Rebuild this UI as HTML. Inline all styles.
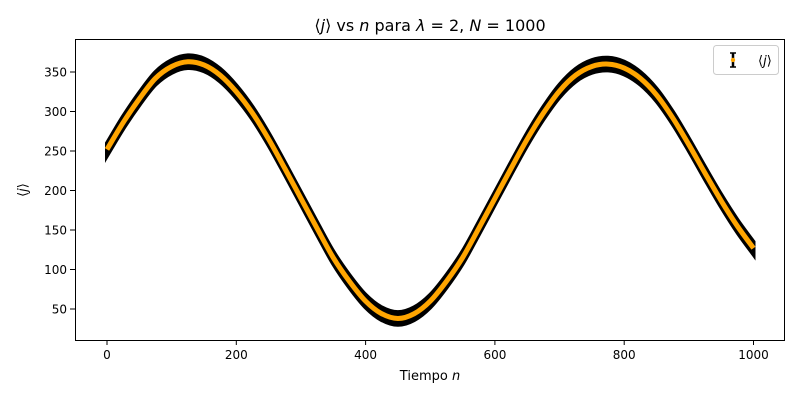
<!DOCTYPE html>
<html><head><meta charset="utf-8"><style>
body{margin:0;background:#fff;font-family:"Liberation Sans","DejaVu Sans",sans-serif}
svg text{font-family:"DejaVu Sans","Liberation Sans",sans-serif}
</style></head><body>
<svg id="chart" width="800" height="400">
<rect width="800" height="400" fill="#fff"/>
<text x="430" y="31" font-size="16" text-anchor="middle">⟨<tspan font-style="italic">j</tspan>⟩ vs <tspan font-style="italic">n</tspan> para <tspan font-style="italic">λ</tspan> = 2, <tspan font-style="italic">N</tspan> = 1000</text>
<g id="axes"></g>
<g id="series"></g>
<rect x="75.5" y="39.5" width="709" height="301" fill="none" stroke="#000" stroke-width="1"/>
<g>
<rect x="713.5" y="45.5" width="65" height="29" rx="3" fill="#fff" stroke="#ccc"/>
<line x1="733" y1="53" x2="733" y2="67" stroke="#000" stroke-width="2.5"/>
<line x1="730" y1="53" x2="736" y2="53" stroke="#000" stroke-width="1.5"/>
<line x1="730" y1="67" x2="736" y2="67" stroke="#000" stroke-width="1.5"/>
<circle cx="733" cy="60" r="2.2" fill="orange"/>
<text x="758" y="65" font-size="13">⟨<tspan font-style="italic">j</tspan>⟩</text>
</g>
<text x="430" y="380" font-size="13" text-anchor="middle">Tiempo <tspan font-style="italic">n</tspan></text>
<text transform="translate(27,190) rotate(-90)" font-size="13" text-anchor="middle">⟨<tspan font-style="italic">j</tspan>⟩</text>
</svg>
<script>
const nValues=[0,25,50,75,100,125,150,175,200,225,250,275,300,325,350,375,400,425,450,475,500,525,550,575,600,625,650,675,700,725,750,775,800,825,850,875,900,925,950,975,1000];
const jValues=[252,286,316,342,357,363,359,346,325,298,265,228,190,152,115,85,60,44,38,44,60,85,115,152,190,228,265,298,326,346,357,360,355,342,321,292,258,222,187,155,127];
const errValues=8;
const xTicks=[0,200,400,600,800,1000];
const yTicks=[50,100,150,200,250,300,350];
const X=v=>107+v*0.6465;
const Y=v=>348.5-v*0.79;
const NS='http://www.w3.org/2000/svg';
const axes=document.getElementById('axes');
function mk(t,a,p){const e=document.createElementNS(NS,t);for(const k in a)e.setAttribute(k,a[k]);p.appendChild(e);return e;}
xTicks.forEach(t=>{
 const l=mk('line',{x1:X(t),x2:X(t),y1:340,y2:345,stroke:'#000'},axes);
 
 
 const tx=mk('text',{x:X(t),y:359,'font-size':12,'text-anchor':'middle'},axes);tx.textContent=t;
 
 
});
yTicks.forEach(t=>{
 const l=mk('line',{x1:70,x2:75,y1:Y(t),y2:Y(t),stroke:'#000'},axes);
 
 
 const tx=mk('text',{x:67,y:Y(t)+4.5,'font-size':12,'text-anchor':'end'},axes);tx.textContent=t;
 
 
});
const g=document.getElementById('series');
function segs(pts){
 let d='';
 for(let i=0;i<pts.length-1;i++){
  const p0=pts[Math.max(0,i-1)],p1=pts[i],p2=pts[i+1],p3=pts[Math.min(pts.length-1,i+2)];
  d+=' C'+(p1[0]+(p2[0]-p0[0])/6)+','+(p1[1]+(p2[1]-p0[1])/6)+' '+(p2[0]-(p3[0]-p1[0])/6)+','+(p2[1]-(p3[1]-p1[1])/6)+' '+p2[0]+','+p2[1];
 }
 return d;
}
function pts(off){return nValues.map((n,i)=>[X(n),Y(jValues[i]+off)]);}
const up=pts(errValues), lo=pts(-errValues).reverse();
const bandD='M'+up[0][0]+','+up[0][1]+segs(up)+' L'+lo[0][0]+','+lo[0][1]+segs(lo)+' Z';
const band=mk('path',{d:bandD,fill:'#000',stroke:'#000','stroke-width':4,'stroke-linejoin':'miter'},g);


const c=pts(0);
const line=mk('path',{d:'M'+c[0][0]+','+c[0][1]+segs(c),fill:'none',stroke:'orange','stroke-width':5,'stroke-linecap':'butt'},g);


</script>
</body></html>
